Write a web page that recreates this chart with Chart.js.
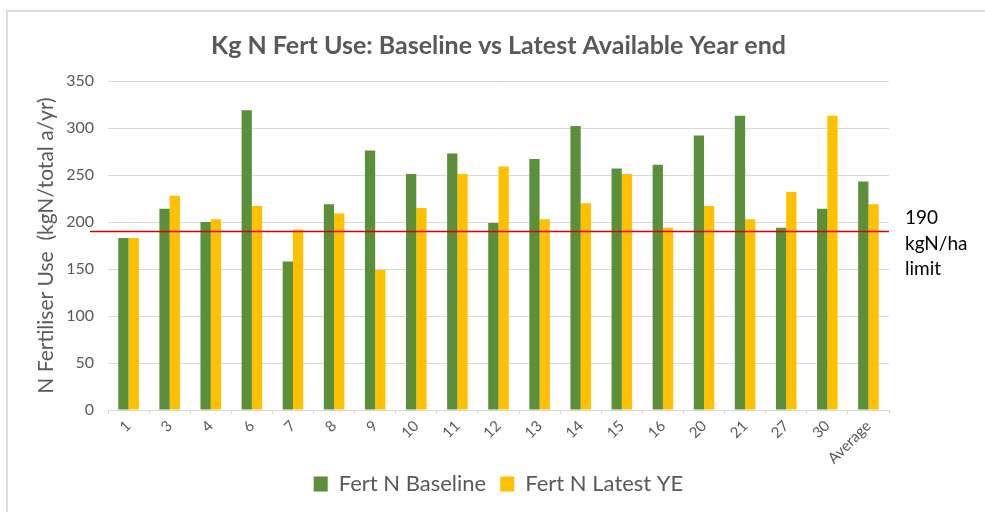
<!DOCTYPE html>
<html>
<head>
<meta charset="utf-8">
<script src="https://cdn.jsdelivr.net/npm/chart.js@4/dist/chart.umd.min.js"></script>
<style>
  html, body { margin: 0; padding: 0; background: #fff; overflow: hidden; }
  #wrap { position: relative; width: 985px; height: 512px; }
  #frame { position: absolute; left: 6px; top: 10px; width: 1000px; height: 520px;
           border-top: 2px solid #dcdcdc; border-left: 2px solid #dcdcdc; pointer-events: none; }
</style>
</head>
<body>
<div id="wrap">
  <canvas id="myChart" width="985" height="512"></canvas>
  <div id="frame"></div>
</div>
<script>
const farms = ['1','3','4','6','7','8','9','10','11','12','13','14','15','16','20','21','27','30','Average'];
const baseline = [183, 214, 200, 319, 158, 219, 276, 251, 273, 199, 267, 302, 257, 261, 292, 313, 194, 214, 243];
const latestYE = [183, 228, 203, 217, 192, 209, 149, 215, 251, 259, 203, 220, 251, 194, 217, 203, 232, 313, 219];
const yTicks = [0, 50, 100, 150, 200, 250, 300, 350];
const limitValue = 190;
const limitLabel = ['190', 'kgN/ha', 'limit'];

const grey = '#595959';
const font = 'Lato, "Open Sans", sans-serif';

// red limit line + its label on the right
const limitPlugin = {
    id: 'limitLine',
    afterLayout(chart) {
        // nudge the legend up a little
        chart.legend.top -= 7;
        chart.legend.bottom -= 7;
    },
    afterDatasetsDraw(chart) {
        const ctx = chart.ctx;
        const area = chart.chartArea;
        const y = chart.scales.y.getPixelForValue(limitValue);
        ctx.save();
        ctx.strokeStyle = '#e00000';
        ctx.lineWidth = 1.5;
        ctx.beginPath();
        ctx.moveTo(area.left - 18, y);
        ctx.lineTo(area.right, y);
        ctx.stroke();
        ctx.fillStyle = '#000';
        ctx.font = '19px ' + font;
        ctx.textBaseline = 'middle';
        for (let i = 0; i < limitLabel.length; i++) {
            ctx.fillText(limitLabel[i], area.right + 16, y + 12 + (i - 1) * 25.5);
        }
        ctx.restore();
    }
};

const ctx = document.getElementById('myChart').getContext('2d');
const myChart = new Chart(ctx, {
    type: 'bar',
    data: {
        labels: farms,
        datasets: [{
            label: 'Fert N Baseline',
            data: baseline,
            backgroundColor: '#5B8F3A',
            borderWidth: 0
        }, {
            label: 'Fert N Latest YE',
            data: latestYE,
            backgroundColor: '#FFC000',
            borderWidth: 0
        }]
    },
    options: {
        responsive: false,
        animation: false,
        categoryPercentage: 0.5,
        barPercentage: 1,
        layout: { padding: { left: 34, right: 96, top: 31, bottom: 0 } },
        plugins: {
            title: {
                display: true,
                fullSize: false,
                text: 'Kg N Fert Use: Baseline vs Latest Available Year end',
                color: grey,
                font: { family: font, size: 25, weight: 'bold' },
                padding: { top: 0, bottom: 20 }
            },
            legend: {
                position: 'bottom',
                fullSize: false,
                labels: {
                    color: grey,
                    font: { family: font, size: 22 },
                    boxWidth: 14,
                    boxHeight: 15,
                    padding: 14
                }
            },
            tooltip: { enabled: false }
        },
        scales: {
            x: {
                grid: {
                    offset: true,
                    drawOnChartArea: false,
                    drawTicks: true,
                    tickLength: 4,
                    color: '#d9d9d9'
                },
                border: { color: '#d9d9d9' },
                ticks: {
                    color: grey,
                    font: { family: font, size: 15 },
                    maxRotation: 45,
                    minRotation: 45,
                    padding: 3
                },
                afterFit(scale) {
                    scale.height = 56;
                }
            },
            y: {
                min: 0,
                max: 350,
                afterBuildTicks(scale) {
                    scale.ticks = yTicks.map(v => ({ value: v }));
                },
                grid: { color: '#d9d9d9', drawTicks: false },
                border: { display: false },
                ticks: {
                    color: grey,
                    font: { family: font, size: 16 },
                    padding: 14
                },
                title: {
                    display: true,
                    text: 'N Fertiliser Use  (kgN/total a/yr)',
                    color: grey,
                    font: { family: font, size: 21 },
                    padding: 0
                },
                afterFit(scale) {
                    scale.width = 74;
                }
            }
        }
    },
    plugins: [limitPlugin]
});
</script>
</body>
</html>
